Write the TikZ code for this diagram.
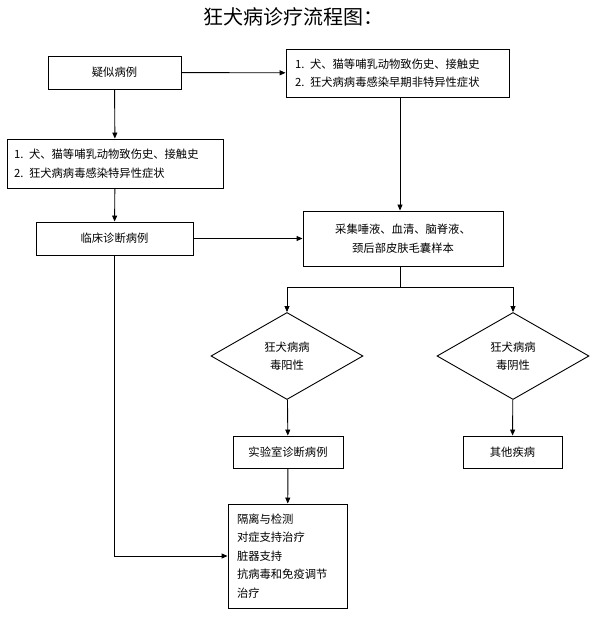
\documentclass[tikz,border=0pt]{standalone}
\usepackage{fontspec}
\usepackage{tikz}
\usetikzlibrary{positioning,arrows.meta,shapes.geometric}
\newfontfamily\cjk{Noto Sans CJK SC}

\begin{document}
\begin{tikzpicture}[x=1pt, y=-1pt,
  every node/.style={font=\cjk\fontsize{11.3}{18.5}\selectfont},
  box/.style={draw, line width=0.9pt, inner sep=0pt, align=center},
  lbox/.style={draw, line width=0.9pt, inner sep=0pt, align=left},
  dia/.style={draw, diamond, line width=0.9pt, inner sep=0pt, align=center, minimum width=152pt, minimum height=87pt},
  arr/.style={line width=0.9pt, -{Triangle[length=6pt,width=5pt]}}]
\useasboundingbox (0,0) rectangle (602,617);
\node[font=\cjk\fontsize{20}{24}\selectfont] (title) at (293,17) {狂犬病诊疗流程图：};
\node[box, minimum width=133pt, minimum height=33pt] (susp) at (114.5,72.5) {疑似病例};
\node[lbox, minimum width=223pt, minimum height=48pt, text width=205pt] (early) at (397.5,73) {1. 犬、猫等哺乳动物致伤史、接触史\\2. 狂犬病病毒感染早期非特异性症状};
\node[lbox, minimum width=216pt, minimum height=49pt, text width=202pt] (spec) at (115,163.5) {1. 犬、猫等哺乳动物致伤史、接触史\\2. 狂犬病病毒感染特异性症状};
\node[box, minimum width=157pt, minimum height=33pt] (clin) at (114.5,238.5) {临床诊断病例};
\node[box, minimum width=200pt, minimum height=55pt] (samp) at (403,238.5) {采集唾液、血清、脑脊液、\\颈后部皮肤毛囊样本};
\node[dia] (pos) at (287,356) {狂犬病病\\毒阳性};
\node[dia] (neg) at (513,356) {狂犬病病\\毒阴性};
\node[box, minimum width=110pt, minimum height=32pt] (lab) at (288,452) {实验室诊断病例};
\node[box, minimum width=99pt, minimum height=32pt] (other) at (512.5,452) {其他疾病};
\node[lbox, minimum width=119pt, minimum height=104pt, text width=101pt] (treat) at (287.5,556) {隔离与检测\\对症支持治疗\\脏器支持\\抗病毒和免疫调节\\治疗};
\coordinate (fork) at (400,287);
\draw[arr] (susp) -- (early);
\draw[arr] (susp) -- (spec);
\draw[arr] (spec) -- (clin);
\draw[arr] (clin) -- (samp);
\draw[arr] (early.south -| fork) -- (samp.north -| fork);
\draw[line width=0.9pt] (samp.south -| fork) -- (fork);
\draw[arr] (fork) -| (pos.north);
\draw[arr] (fork) -| (neg.north);
\draw[arr] (pos) -- (lab);
\draw[arr] (neg) -- (other);
\draw[arr] (lab) -- (treat);
\draw[arr] (clin.south) |- (treat.west);
\end{tikzpicture}
\end{document}
